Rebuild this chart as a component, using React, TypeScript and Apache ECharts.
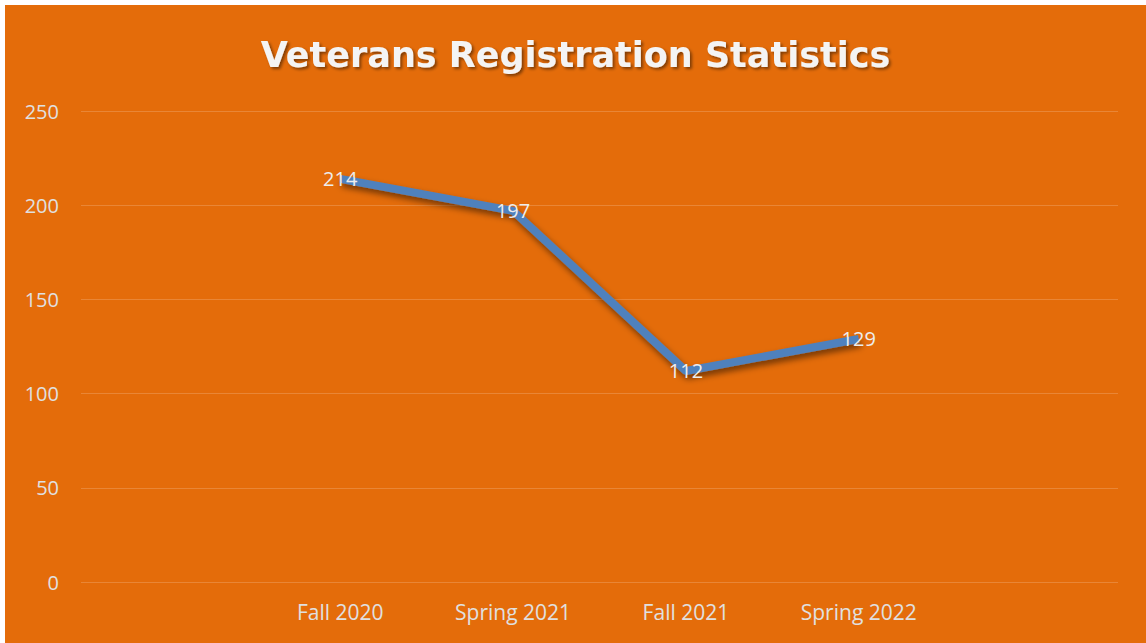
import React, { useEffect, useRef } from "react";
import * as echarts from "echarts";

const categories = ["", "Fall 2020", "Spring 2021", "Fall 2021", "Spring 2022", ""];
const registrations = [null, 214, 197, 112, 129, null];
const yTicks = { min: 0, max: 250, interval: 50 };
const titleText = "Veterans Registration Statistics";

export default function App() {
  const ref = useRef<HTMLDivElement>(null);
  useEffect(() => {
    document.body.style.margin = "0";
    const chart = echarts.init(ref.current!, null, { renderer: "svg" });
    const font = "'Open Sans', 'Noto Sans', sans-serif";
    chart.setOption({
      animation: false,
      backgroundColor: "#E46C0A",
      title: {
        text: titleText,
        left: "center",
        top: 27,
        textStyle: {
          fontFamily: "'DejaVu Sans', sans-serif",
          fontSize: 35,
          fontWeight: "bold",
          color: "#F4F4F4",
          textShadowColor: "rgba(0,0,0,0.45)",
          textShadowBlur: 3,
          textShadowOffsetX: 2,
          textShadowOffsetY: 2,
        },
      },
      grid: { left: 76, right: 28, top: 106, bottom: 61, containLabel: false },
      xAxis: {
        type: "category",
        data: categories,
        boundaryGap: true,
        axisLine: { show: false },
        axisTick: { show: false },
        axisLabel: { color: "#E0E0E0", fontSize: 21, fontFamily: font, margin: 19 },
      },
      yAxis: {
        type: "value",
        min: yTicks.min,
        max: yTicks.max,
        interval: yTicks.interval,
        axisLine: { show: false },
        axisTick: { show: false },
        axisLabel: { color: "#E0E0E0", fontSize: 20, fontFamily: font, margin: 22 },
        splitLine: { lineStyle: { color: "rgba(255,255,255,0.18)", width: 1 } },
      },
      series: [
        {
          type: "line",
          data: registrations,
          connectNulls: false,
          symbol: "circle",
          symbolSize: 2,
          showSymbol: true,
          itemStyle: { color: "rgba(0,0,0,0)", borderWidth: 0 },
          lineStyle: {
            color: "#4F81BD",
            width: 8,
            shadowColor: "rgba(0,0,0,0.5)",
            shadowBlur: 6,
            shadowOffsetX: 2,
            shadowOffsetY: 4,
          },
          label: {
            show: true,
            position: "inside",
            color: "#EDEDED",
            fontSize: 20,
            fontFamily: font,
          },
          z: 3,
        },
      ],
    });
    return () => chart.dispose();
  }, []);
  return (
    <div
      ref={ref}
      style={{ position: "absolute", left: 5, top: 5, width: 1141, height: 638 }}
    />
  );
}
